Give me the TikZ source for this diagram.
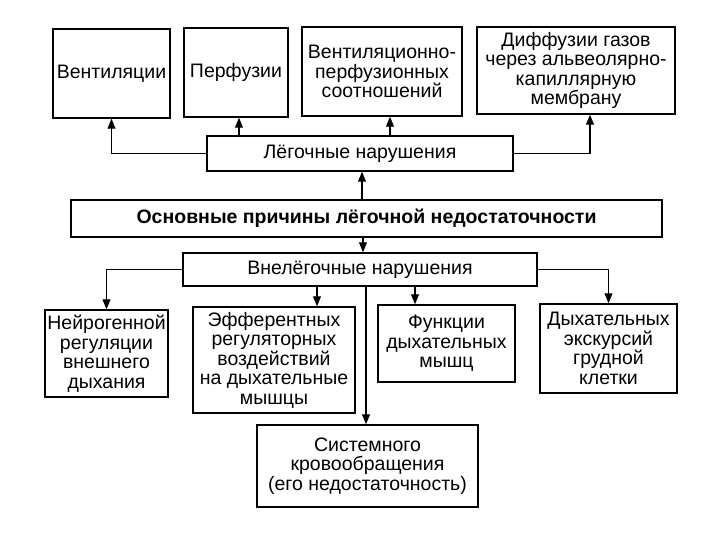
\documentclass[tikz,border=0pt]{standalone}
\usepackage{fontspec}
\setmainfont{Liberation Sans}
\usetikzlibrary{arrows.meta}
\begin{document}
\begin{tikzpicture}[x=1pt,y=-1pt,
  box/.style={draw, line width=1.5pt, align=center, inner sep=1pt,
    font=\fontsize{19.5}{19.5}\selectfont},
  arr/.style={line width=1.1pt, -{Triangle[width=8pt,length=10pt]}}]
\useasboundingbox (0,0) rectangle (720,540);
\fill[white] (0,0) rectangle (720,540);
% top row
\node[box, minimum width=117pt, minimum height=89pt] (vent) at (111.5,73.5) {Вентиляции};
\node[box, minimum width=104pt, minimum height=89pt] (perf) at (236,72.5) {Перфузии};
\node[box, minimum width=160pt, minimum height=89pt] (vpo) at (382,71.5) {Вентиляционно-\\перфузионных\\соотношений};
\node[box, minimum width=198pt, minimum height=87pt] (diff) at (576,70.5) {Диффузии газов\\через альвеолярно-\\капиллярную\\мембрану};
% middle
\node[box, minimum width=306pt, minimum height=35pt] (leg) at (360,153.5) {Лёгочные нарушения};
\node[box, minimum width=591pt, minimum height=37pt, font=\fontsize{19.5}{19.5}\selectfont\bfseries] (main) at (366.5,218.5) {Основные причины лёгочной недостаточности};
\node[box, minimum width=354pt, minimum height=33pt] (vneleg) at (360,269.5) {Внелёгочные нарушения};
% bottom row
\node[box, minimum width=123pt, minimum height=87pt] (neyro) at (106.5,353.5) {Нейрогенной\\регуляции\\внешнего\\дыхания};
\node[box, minimum width=162pt, minimum height=106pt] (eff) at (274,360) {Эфферентных\\регуляторных\\воздействий\\на дыхательные\\мышцы};
\node[box, minimum width=137pt, minimum height=77pt] (func) at (446.5,343.5) {Функции\\дыхательных\\мышц};
\node[box, minimum width=137pt, minimum height=89pt] (eksk) at (608.5,348.5) {Дыхательных\\экскурсий\\грудной\\клетки};
\node[box, minimum width=221pt, minimum height=82pt] (sys) at (367.5,466) {Системного\\кровообращения\\(его недостаточность)};
% connectors: lung
\draw[arr] (leg.west) -| (vent.south);
\draw[arr] ([xshift=3pt]perf.south |- leg.north) -- ([xshift=3pt]perf.south);
\draw[arr] ([xshift=8pt]vpo.south |- leg.north) -- ([xshift=8pt]vpo.south);
\draw[arr] (leg.east) -| ([xshift=14pt]diff.south);
\draw[arr] ([xshift=2pt]leg.south |- main.north) -- ([xshift=2pt]leg.south);
% connectors: extra-lung
\draw[arr] ([xshift=3pt]vneleg.north |- main.south) -- ([xshift=3pt]vneleg.north);
\draw[arr] (vneleg.west) -| (neyro.north);
\draw[arr] ([xshift=43pt]eff.north |- vneleg.south) -- ([xshift=43pt]eff.north);
\draw[arr] ([xshift=-1.5pt]sys.north |- vneleg.south) -- ([xshift=-1.5pt]sys.north);
\draw[arr] ([xshift=-31.5pt]func.north |- vneleg.south) -- ([xshift=-31.5pt]func.north);
\draw[arr] (vneleg.east) -| (eksk.north);
\end{tikzpicture}
\end{document}
